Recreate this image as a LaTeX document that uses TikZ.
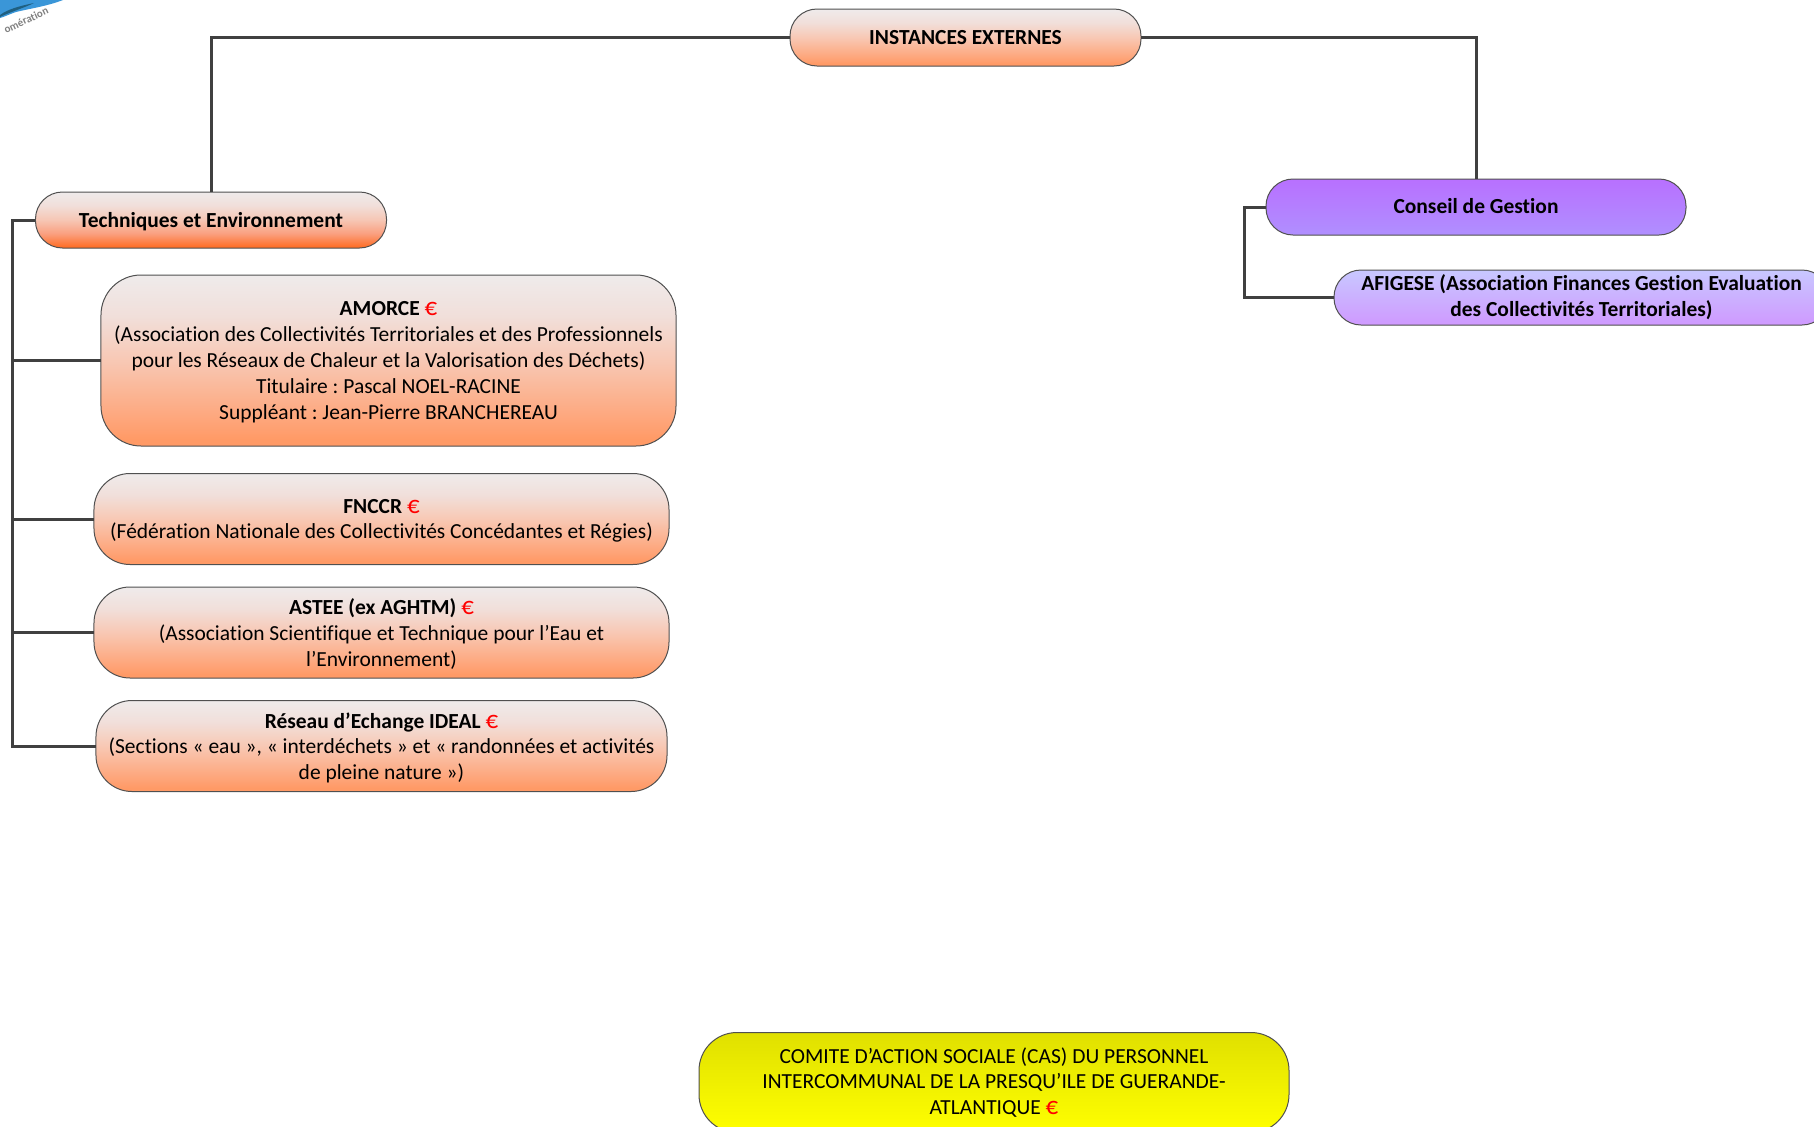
\documentclass[tikz,border=0pt]{standalone}
\usepackage{fontspec}
\setmainfont{Carlito}[Ligatures=NoCommon]
\definecolor{linec}{HTML}{404040}
\definecolor{edgec}{HTML}{505050}
\definecolor{eurored}{HTML}{FF0000}
\newcommand{\eur}{\textcolor{eurored}{\fontsize{25}{25.9}\selectfont €}}
\definecolor{topgrey}{HTML}{EFEBEB}
\definecolor{peachup}{HTML}{F1DFDA}
\definecolor{peachmid}{HTML}{F8C8B4}
\definecolor{peachlow}{HTML}{FEA478}
\definecolor{peachbot}{HTML}{FF9A66}
\definecolor{techbot}{HTML}{FF6A1F}
\definecolor{techlow}{HTML}{FAA080}
\definecolor{techmid}{HTML}{F6C6B4}
\definecolor{violettop}{HTML}{B870FF}
\definecolor{violetbot}{HTML}{B08FFF}
\definecolor{afitop}{HTML}{C8C8FF}
\definecolor{afibot}{HTML}{CF99FF}
\definecolor{castop}{HTML}{E0E000}
\definecolor{casbot}{HTML}{FFFF00}
\definecolor{logoblue}{HTML}{3A96D8}
\definecolor{logodark}{HTML}{1F5F80}
\pgfdeclareverticalshading{peachshade}{100bp}{color(0bp)=(peachbot); color(27bp)=(peachbot); color(32bp)=(peachlow); color(50bp)=(peachmid); color(63bp)=(peachup); color(75bp)=(topgrey); color(100bp)=(topgrey)}
\pgfdeclareverticalshading{techshade}{100bp}{color(0bp)=(techbot); color(25bp)=(techbot); color(38bp)=(techlow); color(50bp)=(techmid); color(63bp)=(peachup); color(75bp)=(topgrey); color(100bp)=(topgrey)}
\tikzset{
  boxbase/.style={rectangle,draw=edgec,line width=1bp,outer sep=0pt,inner sep=0pt,align=center,font=\fontsize{21.55}{25.9}\selectfont\frenchspacing,text=black},
  boldbox/.style={font=\fontsize{21.55}{25.9}\selectfont\frenchspacing\bfseries},
  peach/.style={boxbase,shading=peachshade},
  techbox/.style={boxbase,shading=techshade},
  violetbox/.style={boxbase,top color=violettop,bottom color=violetbot},
  afibox/.style={boxbase,top color=afitop,bottom color=afibot},
  casbox/.style={boxbase,top color=castop,bottom color=casbot},
  conn/.style={draw=linec,line width=3bp},
}
\begin{document}
\begin{tikzpicture}[x=1bp,y=-1bp]
\useasboundingbox (0,0) rectangle (1814,1126);
\clip (0,0) rectangle (1814,1126);
\fill[logoblue] (0,0) -- (63,0) .. controls (48,6) and (28,9) .. (16,12) .. controls (10,14) and (4,17) .. (0,18) -- cycle;
\fill[logodark] (0,15) .. controls (8,9) and (20,6) .. (34,3) .. controls (24,8) and (10,12) .. (0,17) -- cycle;
\node[rotate=25,font=\fontsize{11}{12}\selectfont\bfseries,text=gray,inner sep=0pt] (logotext) at (26,20) {omération};
\node[peach,boldbox,rounded corners=27bp,minimum width=351bp,minimum height=57bp] (inst) at (965.5,37.5) {INSTANCES EXTERNES};
\node[techbox,boldbox,text depth=0pt,rounded corners=27bp,minimum width=351bp,minimum height=56bp] (tech) at (211,220) {Techniques et Environnement};
\node[violetbox,boldbox,text depth=2.5bp,rounded corners=27bp,minimum width=420bp,minimum height=56bp] (cons) at (1476,207) {Conseil de Gestion};
\node[afibox,boldbox,rounded corners=27bp,minimum width=495bp,minimum height=55bp] (afi) at (1581.5,297.5) {AFIGESE (Association Finances Gestion Evaluation\\des Collectivités Territoriales)};
\node[peach,text depth=0pt,rounded corners=40bp,minimum width=575bp,minimum height=171bp] (amorce) at (388.5,360.5) {\textbf{AMORCE} \eur\\(Association des Collectivités Territoriales et des Professionnels\\pour les Réseaux de Chaleur et la Valorisation des Déchets)\\Titulaire : Pascal NOEL-RACINE\\Suppléant : Jean-Pierre BRANCHEREAU};
\node[peach,text depth=0pt,rounded corners=36bp,minimum width=575bp,minimum height=91bp] (fnccr) at (381.5,519) {\textbf{FNCCR} \eur\\(Fédération Nationale des Collectivités Concédantes et Régies)};
\node[peach,text depth=0pt,rounded corners=36bp,minimum width=575bp,minimum height=91bp] (astee) at (381.5,632.5) {\textbf{ASTEE (ex AGHTM)} \eur\\(Association Scientifique et Technique pour l’Eau et\\l’Environnement)};
\node[peach,text depth=0pt,rounded corners=36bp,minimum width=571bp,minimum height=91bp] (ideal) at (381.5,746) {\textbf{Réseau d’Echange IDEAL} \eur\\(Sections « eau », « interdéchets » et « randonnées et activités\\de pleine nature »)};
\node[casbox,rounded corners=38bp,minimum width=590bp,minimum height=100bp] (cas) at (994,1082.5) {COMITE D’ACTION SOCIALE (CAS) DU PERSONNEL\\INTERCOMMUNAL DE LA PRESQU’ILE DE GUERANDE-\\ATLANTIQUE \eur};
\coordinate (rail) at (12.5,500);
\coordinate (railb) at (1244,250);
\draw[conn] (inst.west) -| (tech.north);
\draw[conn] (inst.east) -| (cons.north);
\draw[conn] (tech.west) -- (tech.west -| rail) -- (ideal.west -| rail) -- (ideal.west);
\draw[conn] (amorce.west -| rail) -- (amorce.west);
\draw[conn] (fnccr.west -| rail) -- (fnccr.west);
\draw[conn] (astee.west -| rail) -- (astee.west);
\draw[conn] (cons.west) -- (cons.west -| railb) -- (afi.west -| railb) -- (afi.west);
\end{tikzpicture}
\end{document}
